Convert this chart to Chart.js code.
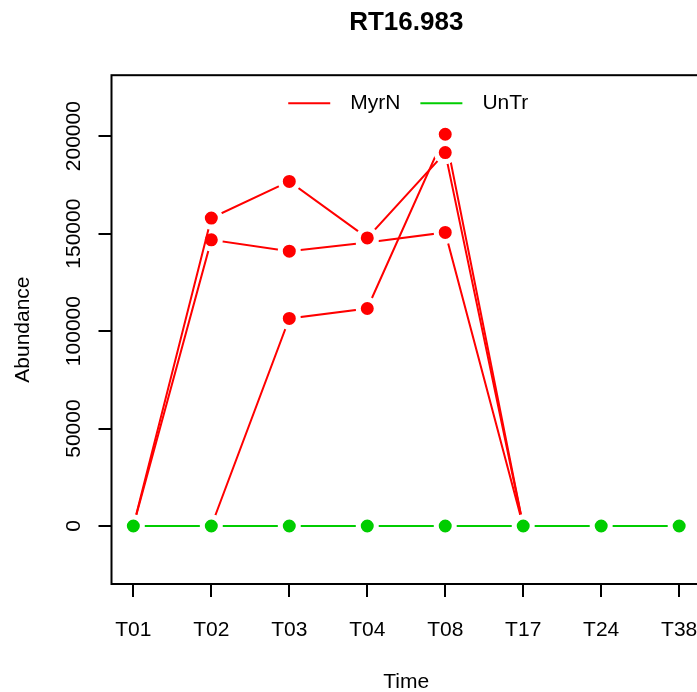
<!DOCTYPE html>
<html lang="en">
<head>
<meta charset="UTF-8">
<title>RT16.983</title>
<script src="https://cdn.jsdelivr.net/npm/chart.js@4.4.0/dist/chart.umd.min.js"></script>
<style>
  html, body { margin: 0; padding: 0; background: #fff; overflow: hidden; }
  #wrap { width: 720px; height: 692px; }
</style>
</head>
<body>
<div id="wrap"><canvas id="chart" width="720" height="692"></canvas></div>
<script>
// time points on the x axis
const timeLabels = ['T01', 'T02', 'T03', 'T04', 'T08', 'T17', 'T24', 'T38'];

// MyrN replicates (no values after T17)
const myrN1 = [0, 158000, 176800, 147800, 191600, 0, null, null];
const myrN2 = [0, 146800, 141000, 145500, 150600, 0, null, null];
const myrN3 = [0, 0, 106500, 111600, 201000, 0, null, null];

// untreated control
const unTr = [0, 0, 0, 0, 0, 0, 0, 0];

const yTicks = [0, 50000, 100000, 150000, 200000];

const RED = '#FF0000';
const GREEN = '#00CD00';
const FONT = "'Liberation Sans', Arial, sans-serif";

function toPoints(arr) {
    return arr.map((v, i) => ({x: i + 1, y: v}));
}

function series(label, values, color, order) {
    return {
        label: label,
        data: toPoints(values),
        borderColor: color,
        backgroundColor: color,
        borderWidth: 2,
        pointRadius: 9,
        pointBorderWidth: 5,
        pointBorderColor: '#fff',
        pointBackgroundColor: color,
        pointHoverRadius: 9,
        spanGaps: false,
        order: order
    };
}

// box around the plot region, like R's box()
const boxPlugin = {
    id: 'box',
    beforeDatasetsDraw(chart) {
        const a = chart.chartArea;
        const ctx = chart.ctx;
        ctx.save();
        ctx.strokeStyle = '#000';
        ctx.lineWidth = 2;
        ctx.strokeRect(a.left, a.top, a.right - a.left, a.bottom - a.top);
        ctx.restore();
    }
};

// R-style legend inside the top of the plot, no frame
const legendPlugin = {
    id: 'rLegend',
    afterDatasetsDraw(chart) {
        const a = chart.chartArea;
        const ctx = chart.ctx;
        const seen = {};
        const items = [];
        chart.data.datasets.forEach(ds => {
            if (!seen[ds.label]) {
                seen[ds.label] = true;
                items.push({text: ds.label, color: ds.borderColor});
            }
        });
        const lineLen = 42, textGap = 20, itemGap = 20;
        ctx.save();
        ctx.font = '21px ' + FONT;
        let total = 0;
        items.forEach((it, i) => {
            it.w = ctx.measureText(it.text).width;
            total += lineLen + textGap + it.w + (i > 0 ? itemGap : 0);
        });
        let x = (a.left + a.right) / 2 - total / 2 + 2;
        const y = a.top + 28;
        ctx.textBaseline = 'middle';
        ctx.textAlign = 'left';
        items.forEach(it => {
            ctx.strokeStyle = it.color;
            ctx.lineWidth = 2;
            ctx.beginPath();
            ctx.moveTo(x, y);
            ctx.lineTo(x + lineLen, y);
            ctx.stroke();
            ctx.fillStyle = '#000';
            ctx.fillText(it.text, x + lineLen + textGap, y);
            x += lineLen + textGap + it.w + itemGap;
        });
        ctx.restore();
    }
};

Chart.defaults.font.family = FONT;
Chart.defaults.color = '#000';

const ctx = document.getElementById('chart').getContext('2d');
new Chart(ctx, {
    type: 'line',
    data: {
        datasets: [
            series('MyrN', myrN1, RED, 1),
            series('MyrN', myrN2, RED, 1),
            series('MyrN', myrN3, RED, 1),
            series('UnTr', unTr, GREEN, 0)
        ]
    },
    options: {
        responsive: false,
        animation: false,
        devicePixelRatio: 1,
        events: [],
        layout: { padding: { left: 0, right: 19, top: 0, bottom: 0 } },
        plugins: {
            tooltip: { enabled: false },
            legend: { display: false },
            title: {
                display: true,
                text: 'RT16.983',
                fullSize: false,
                color: '#000',
                font: { size: 26, weight: 'bold' },
                padding: { top: 7, bottom: 37 }
            }
        },
        scales: {
            x: {
                type: 'linear',
                min: 0.72,
                max: 8.28,
                afterBuildTicks: s => { s.ticks = timeLabels.map((t, i) => ({value: i + 1})); },
                afterFit: s => { s.height = 108; },
                ticks: {
                    autoSkip: false,
                    maxRotation: 0,
                    padding: 21,
                    font: { size: 21 },
                    color: '#000',
                    callback: v => timeLabels[Math.round(v) - 1]
                },
                grid: { display: true, drawOnChartArea: false, drawTicks: true, tickLength: 13, color: '#000', lineWidth: 2 },
                border: { display: false },
                title: { display: true, text: 'Time', color: '#000', font: { size: 21 }, padding: { top: 0, bottom: -3 } }
            },
            y: {
                type: 'linear',
                min: -29744,
                max: 231282,
                afterBuildTicks: s => { s.ticks = yTicks.map(v => ({value: v})); },
                afterFit: s => { s.width = 111.5; },
                ticks: {
                    minRotation: 90,
                    maxRotation: 90,
                    crossAlign: 'center',
                    padding: -11,
                    font: { size: 21 },
                    color: '#000',
                    callback: v => String(v)
                },
                grid: { display: true, drawOnChartArea: false, drawTicks: true, tickLength: 13, color: '#000', lineWidth: 2 },
                border: { display: false },
                title: { display: true, text: 'Abundance', color: '#000', font: { size: 21 }, padding: { top: 11, bottom: 0 } }
            }
        }
    },
    plugins: [boxPlugin, legendPlugin]
});
</script>
</body>
</html>
